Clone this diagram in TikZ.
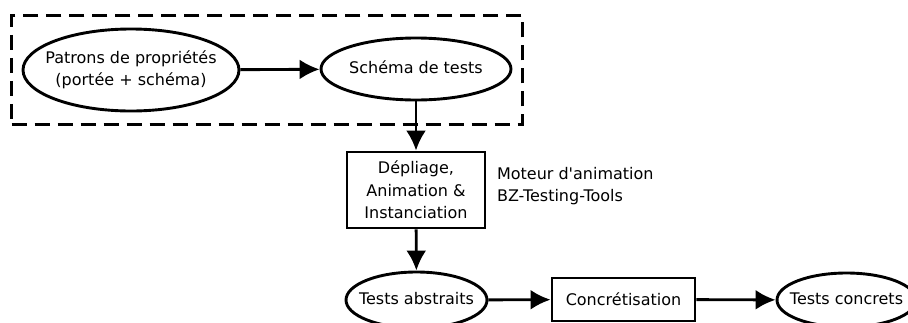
\documentclass[tikz,border=0pt]{standalone}
\usepackage{fontspec}
\setmainfont{DejaVu Sans}[Ligatures=TeXOff]
\usetikzlibrary{arrows.meta,shapes.geometric,fit}
% texte sans largeur : la taille de l'ellipse vient de minimum width/height
\newcommand{\etiquette}[1]{\makebox[0pt]{\begin{tabular}{@{}c@{}}#1\end{tabular}}}

\begin{document}
\begin{tikzpicture}[x=0.5pt,y=-0.5pt,font=\fontsize{8}{11.3}\selectfont]
\tikzstyle{etat} = [ellipse, draw, line width=1.45pt, inner sep=0pt]
\tikzstyle{outil} = [rectangle, draw, line width=1.45pt, inner sep=0pt, align=center]
\tikzstyle{groupe} = [rectangle, draw, line width=1.45pt, dash pattern=on 7.5pt off 4pt]
\tikzstyle{line} = [draw, line width=1.45pt, -{Latex[length=10pt,width=10pt]}]
\useasboundingbox (0,0) rectangle (908,322);
% ligne 1
\node [etat, minimum width=108pt, minimum height=41pt] (patrons) at (131,70) {\etiquette{Patrons de propriétés\\(portée + schéma)}};
\node [etat, minimum width=95pt, minimum height=31pt] (schema) at (416,69) {\etiquette{Schéma de tests}};
\node [groupe, fit=(patrons)(schema), inner xsep=5pt, inner ysep=6pt] (cadre) {};
% ligne 2
\node [outil, minimum width=69pt, minimum height=38pt] (depliage) at (416,190) {Dépliage,\\Animation \&\\Instanciation};
\node [anchor=west, align=left] (moteur) at (490,186) {Moteur d'animation\\BZ-Testing-Tools};
% ligne 3
\node [etat, minimum width=70.5pt, minimum height=28pt] (abstraits) at (416.5,300) {\etiquette{Tests abstraits}};
\node [outil, minimum width=71.5pt, minimum height=21.5pt] (concret) at (623.5,299.5) {Concrétisation};
\node [etat, minimum width=69.5pt, minimum height=27pt] (concrets) at (846.5,300) {\etiquette{Tests concrets}};
\tikzstyle{every path}=[line]
\path (patrons) -- (schema);
\path (schema) -- (depliage);
\path (depliage) -- (abstraits);
\path (abstraits) -- (concret);
\path (concret) -- (concrets);
\end{tikzpicture}
\end{document}
